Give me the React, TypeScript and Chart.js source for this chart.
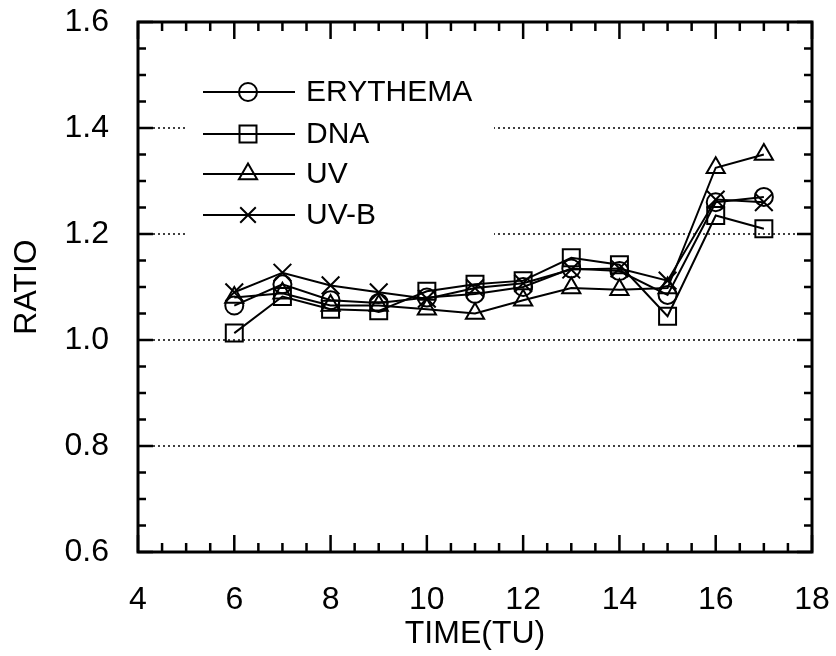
import React, { useEffect, useRef } from 'react';
import { Chart, registerables } from 'chart.js';

Chart.register(...registerables);

// ---- data ----
const timeTU = [6, 7, 8, 9, 10, 11, 12, 13, 14, 15, 16, 17];
const erythema = [1.065, 1.105, 1.075, 1.07, 1.08, 1.087, 1.1, 1.135, 1.13, 1.085, 1.26, 1.27];
const dna = [1.013, 1.082, 1.058, 1.055, 1.092, 1.105, 1.112, 1.155, 1.142, 1.045, 1.235, 1.21];
const uv = [1.08, 1.088, 1.065, 1.065, 1.058, 1.05, 1.075, 1.098, 1.095, 1.098, 1.325, 1.35];
const uvb = [1.09, 1.127, 1.103, 1.09, 1.078, 1.098, 1.107, 1.133, 1.135, 1.112, 1.265, 1.26];
const seriesLabels = ['ERYTHEMA', 'DNA', 'UV', 'UV-B'];
const xTickValues = [4, 6, 8, 10, 12, 14, 16, 18];
const yTickValues = [0.6, 0.8, 1.0, 1.2, 1.4, 1.6];
const gridValues = [0.8, 1.0, 1.2, 1.4];
const xTitle = 'TIME(TU)';
const yTitle = 'RATIO';

const FONT = '"Liberation Sans", Arial, Helvetica, sans-serif';

type Shape = 'circle' | 'rect' | 'triangle' | 'crossRot';

function drawMarker(ctx: CanvasRenderingContext2D, shape: Shape, x: number, y: number, r: number) {
  ctx.beginPath();
  if (shape === 'circle') {
    ctx.arc(x, y, r, 0, Math.PI * 2);
  } else if (shape === 'rect') {
    const s = Math.SQRT1_2 * r;
    ctx.rect(x - s, y - s, 2 * s, 2 * s);
  } else if (shape === 'triangle') {
    let a = 0;
    ctx.moveTo(x + Math.sin(a) * r, y - Math.cos(a) * r);
    a += (2 * Math.PI) / 3;
    ctx.lineTo(x + Math.sin(a) * r, y - Math.cos(a) * r);
    a += (2 * Math.PI) / 3;
    ctx.lineTo(x + Math.sin(a) * r, y - Math.cos(a) * r);
    ctx.closePath();
  } else {
    const d = Math.SQRT1_2 * r;
    ctx.moveTo(x - d, y - d);
    ctx.lineTo(x + d, y + d);
    ctx.moveTo(x - d, y + d);
    ctx.lineTo(x + d, y - d);
  }
  ctx.stroke();
}

const framePlugin = {
  id: 'framePlugin',
  beforeDatasetsDraw(chart: any) {
    const { ctx, chartArea, scales } = chart;
    const { left, right } = chartArea;
    ctx.save();
    ctx.strokeStyle = '#000';
    ctx.lineWidth = 1.6;
    ctx.setLineDash([2, 3]);
    gridValues.forEach((v) => {
      const py = scales.y.getPixelForValue(v);
      ctx.beginPath();
      ctx.moveTo(left, py);
      ctx.lineTo(right, py);
      ctx.stroke();
    });
    ctx.setLineDash([]);
    // legend background
    ctx.fillStyle = '#fff';
    ctx.fillRect(186, 60, 308, 186);
    ctx.restore();
  },
  afterDatasetsDraw(chart: any) {
    const { ctx, chartArea, scales } = chart;
    const { left, right, top, bottom } = chartArea;
    ctx.save();
    ctx.strokeStyle = '#000';
    ctx.lineCap = 'butt';
    // ticks
    ctx.lineWidth = 2.5;
    const xs = scales.x;
    const xmin = xs.min, xmax = xs.max;
    for (let i = 0; xmin + i * 0.5 <= xmax + 1e-9; i++) {
      const v = xmin + i * 0.5;
      const px = xs.getPixelForValue(v);
      const len = i % 4 === 0 ? 17 : 9;
      ctx.beginPath();
      ctx.moveTo(px, bottom);
      ctx.lineTo(px, bottom - len);
      ctx.moveTo(px, top);
      ctx.lineTo(px, top + len);
      ctx.stroke();
    }
    const ys = scales.y;
    const ymin = ys.min, ymax = ys.max;
    for (let i = 0; ymin + i * 0.05 <= ymax + 1e-9; i++) {
      const v = ymin + i * 0.05;
      const py = ys.getPixelForValue(v);
      const len = i % 4 === 0 ? 15 : 8;
      ctx.beginPath();
      ctx.moveTo(left, py);
      ctx.lineTo(left + len, py);
      ctx.moveTo(right, py);
      ctx.lineTo(right - len, py);
      ctx.stroke();
    }
    // frame
    ctx.lineWidth = 3;
    ctx.strokeRect(left, top, right - left, bottom - top);

    // legend
    const rowY = [92, 134, 174, 215];
    chart.data.datasets.forEach((ds: any, i: number) => {
      const y = rowY[i];
      ctx.lineWidth = 2;
      ctx.beginPath();
      ctx.moveTo(203, y);
      ctx.lineTo(295, y);
      ctx.stroke();
      ctx.lineWidth = 2;
      drawMarker(ctx, ds.pointStyle as Shape, 248, y, ds.legendRadius);
      ctx.fillStyle = '#000';
      ctx.font = `30px ${FONT}`;
      ctx.textAlign = 'left';
      ctx.textBaseline = 'middle';
      ctx.fillText(ds.label, 306, y + 1);
    });
    ctx.restore();
  },
};

function pts(values: number[]) {
  return timeTU.map((t, i) => ({ x: t, y: values[i] }));
}

function zeroPad(s: any) {
  s.paddingTop = 0;
  s.paddingBottom = 0;
  s.paddingLeft = 0;
  s.paddingRight = 0;
}

export default function App() {
  const ref = useRef<HTMLCanvasElement | null>(null);
  useEffect(() => {
    if (!ref.current) return;
    const mk = (label: string, values: number[], style: Shape, r: number, lr: number) => ({
      label,
      data: pts(values),
      borderColor: '#000',
      borderWidth: 2,
      pointStyle: style,
      pointRadius: r,
      pointBorderWidth: 2,
      pointBorderColor: '#000',
      pointBackgroundColor: 'rgba(0,0,0,0)',
      backgroundColor: 'rgba(0,0,0,0)',
      fill: false,
      tension: 0,
      legendRadius: lr,
    });
    const chart = new Chart(ref.current, {
      type: 'line',
      data: {
        datasets: [
          mk(seriesLabels[0], erythema, 'circle', 9, 9),
          mk(seriesLabels[1], dna, 'rect', 12, 12),
          mk(seriesLabels[2], uv, 'triangle', 10.5, 10.5),
          mk(seriesLabels[3], uvb, 'crossRot', 12.5, 11),
        ] as any,
      },
      options: {
        animation: false,
        responsive: false,
        maintainAspectRatio: false,
        layout: { padding: { top: 22, right: 24, left: 0, bottom: 0 } },
        plugins: { legend: { display: false }, tooltip: { enabled: false } },
        scales: {
          x: {
            type: 'linear',
            min: 4,
            max: 18,
            afterBuildTicks: (s: any) => {
              s.ticks = xTickValues.map((v) => ({ value: v }));
            },
            afterFit: (s: any) => {
              s.height = 104;
              zeroPad(s);
            },
            grid: { display: false },
            border: { display: false },
            ticks: {
              color: '#000',
              font: { size: 32, family: FONT },
              padding: 21,
              maxRotation: 0,
              autoSkip: false,
            },
            title: {
              display: true,
              text: xTitle,
              color: '#000',
              font: { size: 32, family: FONT, lineHeight: 1 },
              padding: { top: 0, bottom: 6 },
            },
          },
          y: {
            type: 'linear',
            min: 0.6,
            max: 1.6,
            afterBuildTicks: (s: any) => {
              s.ticks = yTickValues.map((v) => ({ value: v }));
            },
            afterFit: (s: any) => {
              s.width = 138;
              zeroPad(s);
            },
            grid: { display: false },
            border: { display: false },
            ticks: {
              color: '#000',
              font: { size: 32, family: FONT },
              padding: 21,
              autoSkip: false,
              callback: (v: any) => Number(v).toFixed(1),
            },
            title: {
              display: true,
              text: yTitle,
              color: '#000',
              font: { size: 32, family: FONT, lineHeight: 1 },
              padding: { top: 11, bottom: 0 },
            },
          },
        },
      } as any,
      plugins: [framePlugin],
    });
    return () => chart.destroy();
  }, []);
  return (
    <div style={{ position: 'fixed', left: 0, top: 0, width: 836, height: 656, background: '#fff' }}>
      <canvas ref={ref} width={836} height={656} style={{ width: 836, height: 656, display: 'block' }} />
    </div>
  );
}
